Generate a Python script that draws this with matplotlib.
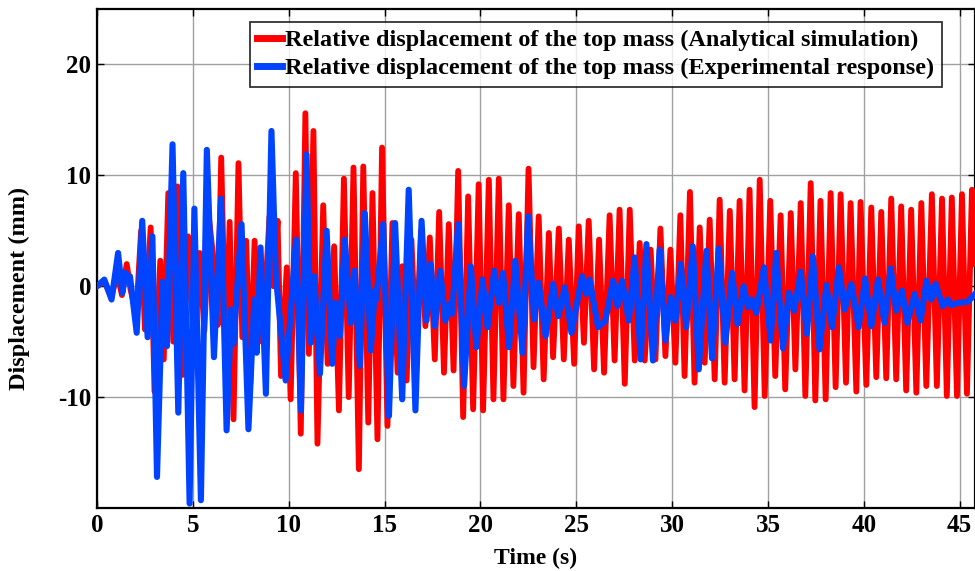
import numpy as np
import matplotlib
matplotlib.use("Agg")
import matplotlib.pyplot as plt
from matplotlib.ticker import FuncFormatter

# Peaks/troughs (time in s, displacement in mm)
red_t = [0.0, 0.4, 0.75, 1.05, 1.3, 1.55, 1.75, 2.05, 2.3, 2.5, 2.8, 3.0, 3.3, 3.48,
         3.72, 3.98, 4.2, 4.45, 4.75, 5.08, 5.35, 5.6, 5.85, 6.1, 6.3, 6.48, 6.72,
         6.92, 7.12, 7.38, 7.58, 7.78, 8.0, 8.22, 8.45, 8.7, 9.0, 9.2, 9.42, 9.6,
         9.9, 10.1, 10.37, 10.63, 10.87, 11.05, 11.29, 11.5, 11.8, 12.03, 12.37,
         12.62, 12.88, 13.13, 13.38, 13.66, 13.89, 14.15, 14.37, 14.63, 14.87,
         15.15, 15.41, 15.68, 15.92, 16.15, 16.4, 16.65, 16.9, 17.13, 17.36, 17.62,
         17.85, 18.1, 18.35, 18.6, 18.84, 19.1, 19.36, 19.62, 19.91, 20.14, 20.44,
         20.68, 20.96, 21.2, 21.48, 21.72, 22.0, 22.25, 22.51, 22.77, 23.04, 23.3,
         23.57, 23.79, 24.09, 24.35, 24.61, 24.89, 25.13, 25.4, 25.65, 25.93, 26.19,
         26.45, 26.74, 27.0, 27.26, 27.53, 27.79, 28.05, 28.31, 28.57, 28.88, 29.13,
         29.39, 29.65, 29.91, 30.17, 30.43, 30.65, 30.93, 31.17, 31.44, 31.7, 31.96,
         32.22, 32.48, 32.74, 33.01, 33.26, 33.52, 33.78, 34.04, 34.3, 34.57, 34.83,
         35.12, 35.38, 35.66, 35.9, 36.19, 36.43, 36.71, 36.95, 37.23, 37.47, 37.74,
         38.01, 38.27, 38.53, 38.79, 39.07, 39.31, 39.61, 39.83, 40.13, 40.39, 40.65,
         40.91, 41.17, 41.43, 41.69, 41.95, 42.21, 42.47, 42.74, 43.0, 43.26, 43.55,
         43.81, 44.08, 44.33, 44.59, 44.86, 45.12, 45.38, 45.64, 45.8]
red_v = [0.0, 0.4, -1.0, 1.2, -0.8, 2.0, -0.3, -2.5, 5.0, -3.9, 5.3, -9.5, 2.3, -6.6,
         8.4, -5.0, 9.0, -8.0, 4.5, -6.3, 3.0, -4.0, 6.0, 2.0, -3.5, 11.6, -7.0,
         5.8, -12.0, 11.1, -4.6, 4.1, -8.7, 4.1, -5.0, -3.0, 6.3, 0.0, 5.9, -8.1,
         1.7, -10.2, 10.2, -13.3, 15.6, -6.1, 14.0, -14.2, 7.3, -7.0, 3.6,
         -11.2, 9.7, -10.0, 10.7, -16.5, 10.8, -12.3, 8.4, -13.8, 12.5,
         -12.6, 5.7, -7.8, 1.8, -8.5, 4.2, -6.0, 5.0, -3.6, 4.4, -6.6,
         6.7, -7.8, 5.6, -7.6, 10.4, -11.8, 8.1, -11.1, 9.2, -11.2, 9.6,
         -10.2, 9.7, -10.2, 7.3, -9.0, 6.5, -9.6, 10.6, -7.3, 6.3, -8.4,
         4.8, -6.4, 5.2, -6.6, 4.2, -7.0, 5.4, -5.1, 5.9, -7.5, 4.2,
         -7.8, 6.4, -6.7, 6.9, -8.8, 6.9, -6.7, 3.9, -6.7, 3.3, -6.6,
         5.2, -6.3, 3.3, -6.9, 6.4, -8.1, 8.5, -8.7, 5.3, -6.9, 6.0,
         -8.4, 7.8, -8.7, 6.8, -8.4, 7.7, -9.4, 8.7, -10.9, 9.6, -9.9,
         7.7, -8.1, 6.4, -9.3, 6.6, -7.5, 7.5, -9.9, 9.3, -10.3, 7.7,
         -10.2, 8.4, -9.1, 8.3, -8.7, 7.5, -9.5, 7.6, -8.9, 7.1, -8.2,
         6.7, -8.3, 7.9, -8.4, 7.2, -9.4, 6.9, -9.6, 7.5, -9.0, 8.3,
         -9.0, 7.9, -9.9, 8.0, -9.9, 8.3, -9.7, 8.7, 2.0]

blue_t = [0.0, 0.38, 0.76, 1.1, 1.32, 1.5, 1.62, 1.72, 2.07, 2.36, 2.64, 2.89, 3.13,
          3.42, 3.65, 3.94, 4.24, 4.5, 4.83, 5.08, 5.42, 5.73, 6.1, 6.47, 6.76, 7.0,
          7.11, 7.54, 7.9, 8.2, 8.33, 8.53, 8.81, 9.1, 9.33, 9.84, 10.38, 10.64,
          10.93, 11.15, 11.33, 11.63, 11.98, 12.27, 12.44, 12.67, 12.92, 13.24,
          13.44, 13.71, 13.97, 14.28, 14.49, 14.57, 14.93, 15.23, 15.55, 15.92,
          16.26, 16.61, 16.93, 17.19, 17.41, 17.62, 17.9, 18.17, 18.4, 18.52, 18.84,
          19.15, 19.5, 19.79, 20.11, 20.37, 20.72, 20.96, 21.18, 21.49, 21.82, 22.2,
          22.49, 22.8, 23.04, 23.4, 23.79, 24.06, 24.4, 24.75, 25.3, 25.52, 25.69,
          26.14, 26.52, 26.92, 27.15, 27.39, 27.74, 28.05, 28.36, 28.66, 29.0,
          29.35, 29.65, 29.92, 30.17, 30.45, 30.74, 31.08, 31.39, 31.79, 32.08,
          32.43, 32.78, 33.13, 33.41, 33.73, 33.96, 34.16, 34.39, 34.79, 35.14,
          35.43, 35.78, 36.09, 36.36, 36.71, 37.03, 37.34, 37.69, 38.05, 38.34,
          38.7, 39.0, 39.35, 39.73, 40.07, 40.39, 40.74, 41.08, 41.4, 41.69, 41.99,
          42.27, 42.65, 42.96, 43.27, 43.52, 43.74, 44.12, 44.39, 44.56, 44.91,
          45.43, 45.8]
blue_v = [0.0, 0.6, -1.2, 3.0, -0.6, 1.2, 0.6, 0.9, -4.2, 5.9, -4.6, 4.5, -17.2,
          0.4, -5.4, 12.8, -11.4, 10.2, -19.6, 7.0, -19.3, 12.3, -6.4, 7.9, -13.0, -2.1,
          -5.2, 5.6, -12.9, -1.2, -6.0, 3.5, -9.7, 14.0, 0.9, -8.5, 4.2, -11.2,
          11.9, -5.1, 0.9, -7.9, 5.0, -7.0, -1.5, -4.5, 4.2, -3.3,
          1.4, -7.2, 6.6, -5.8, -0.4, -1.2, 5.6, -11.7, 5.7, -10.2,
          8.7, -11.2, 5.9, -3.1, 2.0, -3.6, 1.4, -3.1, -1.6, -2.5, 5.6,
          -9.0, 1.8, -5.5, 0.6, -3.7, 1.4, -1.5, 1.2, -5.5, 2.3, -6.0,
          6.3, -3.0, 0.3, -4.5, 0.2, -2.7, -0.1, -4.2, 0.9, -0.7, 0.6,
          -3.7, -3.1, 0.5, -1.8, 0.5, -3.1, 2.6, -6.6, 3.8, -6.7,
          3.3, -4.9, -1.0, -3.1, 2.0, -3.7, 3.6, -7.5, 3.2, -6.5,
          3.4, -5.1, 1.2, -3.4, 0.0, -1.9, -1.2, -2.4, 1.7, -4.9,
          3.0, -5.6, -0.6, -2.2, 1.3, -4.3, 2.7, -5.7, 0.1, -3.7,
          1.7, -2.1, 0.2, -3.7, 0.7, -3.6, 0.6, -3.3, 1.6, -2.2, -0.4,
          -3.3, -0.7, -3.1, 0.5, -1.2, 0.2, -1.8, -1.2, -1.7, -1.5,
          -1.4, -0.7]

x_ticks = [0, 5, 10, 15, 20, 25, 30, 35, 40, 45]
y_ticks = [-10, 0, 10, 20]
red_label = "Relative displacement of the top mass (Analytical simulation)"
blue_label = "Relative displacement of the top mass (Experimental response)"

plt.rcParams["font.family"] = ["Liberation Serif", "DejaVu Serif"]
plt.rcParams["font.weight"] = "bold"
plt.rcParams["axes.unicode_minus"] = False

fig = plt.figure(figsize=(9.75, 5.71), dpi=100)
ax = fig.add_axes([97 / 975, 1 - 508 / 571, 1 - 97 / 975, (508 - 9) / 571])

ax.plot(red_t, red_v, color="#ff0000", lw=4.2, solid_joinstyle="round",
        label=red_label, zorder=3)
ax.plot(blue_t, blue_v, color="#0044ff", lw=4.4, solid_joinstyle="round",
        label=blue_label, zorder=4)

ax.set_xlim(0, 45.8)
ax.set_ylim(-20, 25)
ax.set_xticks(x_ticks)
ax.set_yticks(y_ticks)
ax.yaxis.set_major_formatter(FuncFormatter(lambda v, p: f"{int(v)}"))
ax.grid(True, color="#a0a0a0", lw=1.0)
ax.set_axisbelow(True)
ax.tick_params(direction="in", length=5, width=1.0, top=True, right=True,
               labelsize=18, pad=4)
for s in ax.spines.values():
    s.set_linewidth(1.6)
    s.set_color("black")

ax.set_xlabel("Time (s)", fontsize=17, fontweight="bold", labelpad=8)
ax.set_ylabel("Displacement (mm)", fontsize=17.5, fontweight="bold")
ax.yaxis.set_label_coords(-0.076, 0.44)

leg = ax.legend(loc="upper left", bbox_to_anchor=(250 / 975, 1 - 22 / 571),
                bbox_transform=fig.transFigure, fontsize=17.5, frameon=True,
                fancybox=False, handlelength=1.0, handletextpad=0.15,
                borderpad=0.3, labelspacing=0.25, borderaxespad=0)
leg.get_frame().set_edgecolor("black")
leg.get_frame().set_linewidth(1.3)
for line in leg.get_lines():
    line.set_linewidth(5)

fig.savefig("out.png", dpi=100)
